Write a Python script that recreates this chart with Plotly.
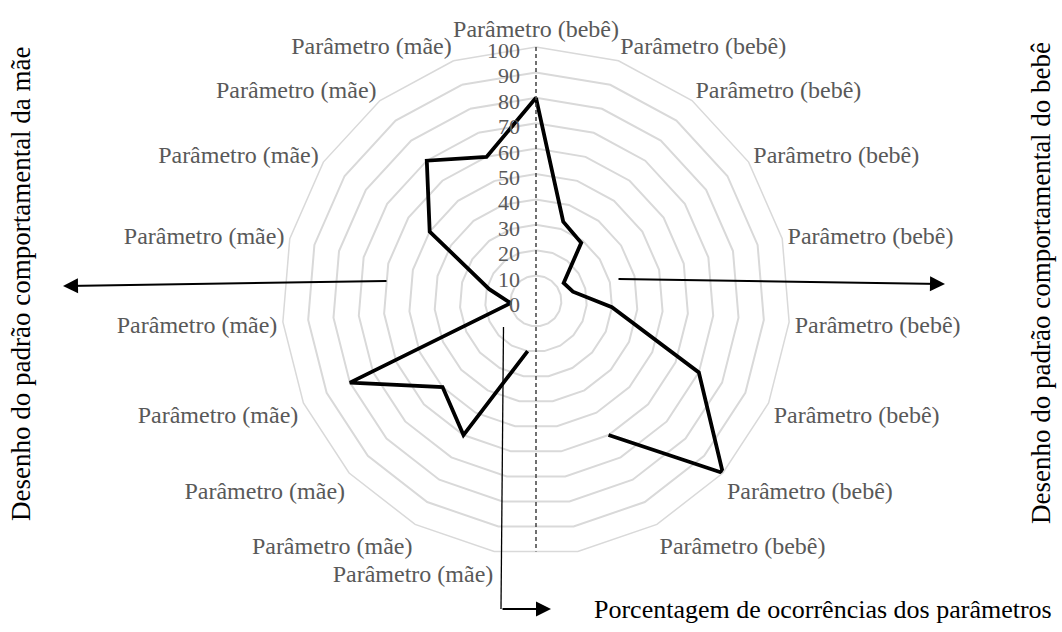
import math
import plotly.graph_objects as go

# ---------------- data ----------------
category_ids = [f"c{i}" for i in range(19)]
category_labels = (["Parâmetro (bebê)"] * 9) + [""] + (["Parâmetro (mãe)"] * 9)
values_bebe = [80, 33, 29, 13, 15, 30, 70, 100, 60]
values_gap = [None]
values_mae = [20, 60, 50, 80, 10, 19, 50, 70, 60]
radial_ticks = [0, 10, 20, 30, 40, 50, 60, 70, 80, 90, 100]
R_MAX = 100

title_left = "Desenho do padrão comportamental da mãe"
title_right = "Desenho do padrão comportamental do bebê"
title_bottom = "Porcentagem de ocorrências dos parâmetros"

# ---------------- geometry ----------------
W, H = 1062, 632
CX, CY, RAD = 536, 301, 254  # pixel centre/radius of the polar plot


def px(x):
    return x / W


def py(y):
    return 1 - y / H


dom_x = [px(CX - RAD), px(CX + RAD)]
dom_y = [py(CY + RAD), py(CY - RAD)]

values = values_bebe + values_gap + values_mae
theta = category_ids + [category_ids[0]]
r = values + [values[0]]

SERIF = "Liberation Serif, Times New Roman, serif"

fig = go.Figure()
fig.add_trace(go.Scatterpolar(
    r=r, theta=theta, mode="lines", connectgaps=False,
    line=dict(color="black", width=3.8), subplot="polar", showlegend=False,
    hoverinfo="skip",
))

# dashed vertical reference line through the centre (top vertex to bottom edge)
fig.add_trace(go.Scatterpolar(
    r=[R_MAX, R_MAX * math.cos(math.pi / 19)], theta=[0, 180], mode="lines",
    line=dict(color="#404040", width=1.5, dash="4px,3px"), subplot="polar2",
    showlegend=False, hoverinfo="skip",
))

fig.update_layout(
    width=W, height=H,
    margin=dict(l=0, r=0, t=0, b=0),
    paper_bgcolor="white",
    font=dict(family=SERIF),
    polar=dict(
        domain=dict(x=dom_x, y=dom_y),
        bgcolor="white",
        gridshape="linear",
        angularaxis=dict(
            type="category", categoryorder="array", categoryarray=category_ids,
            tickmode="array", tickvals=category_ids, ticktext=category_labels,
            rotation=90, direction="clockwise",
            showgrid=False, showline=True, linecolor="#d9d9d9", linewidth=1.5,
            ticks="", tickfont=dict(family=SERIF, size=24, color="#595959"),
        ),
        radialaxis=dict(
            range=[0, R_MAX], tickmode="array", tickvals=radial_ticks,
            showline=False, ticks="", angle=90, side="counterclockwise",
            gridcolor="#d9d9d9", gridwidth=1.5,
            tickfont=dict(family=SERIF, size=22, color="#595959"),
        ),
    ),
    polar2=dict(
        domain=dict(x=dom_x, y=dom_y),
        bgcolor="rgba(0,0,0,0)",
        angularaxis=dict(visible=False, rotation=90, direction="clockwise"),
        radialaxis=dict(visible=False, range=[0, R_MAX]),
    ),
)

annotations = [
    dict(text=title_left, x=px(21), y=py(284), textangle=-90,
         xanchor="center", yanchor="middle",
         font=dict(size=27, color="black")),
    dict(text=title_right, x=px(1041), y=py(283), textangle=-90,
         xanchor="center", yanchor="middle",
         font=dict(size=27, color="black")),
    dict(text=title_bottom, x=px(592), y=py(609), xanchor="left",
         yanchor="middle", font=dict(size=26, color="black")),
    # arrows
    dict(text="", x=px(63), y=py(286), ax=325, ay=-5, showarrow=True,
         arrowhead=2, arrowsize=1.5, arrowwidth=2, arrowcolor="black"),
    dict(text="", x=px(945), y=py(284), ax=-328, ay=-5, showarrow=True,
         arrowhead=2, arrowsize=1.5, arrowwidth=2, arrowcolor="black"),
    dict(text="", x=px(551), y=py(609), ax=-50, ay=0, showarrow=True,
         arrowhead=2, arrowsize=1.5, arrowwidth=2, arrowcolor="black"),
]
for a in annotations:
    a.setdefault("xref", "paper")
    a.setdefault("yref", "paper")
    a.setdefault("showarrow", False)
fig.update_layout(annotations=annotations)

fig.add_shape(type="line", xref="paper", yref="paper",
              x0=px(503.5), y0=py(327), x1=px(501), y1=py(609),
              line=dict(color="black", width=1.3))

fig.write_html(
    "out.html",
    config={"displayModeBar": False},
    post_script="document.body.style.margin='0';document.body.style.overflow='hidden';",
)
